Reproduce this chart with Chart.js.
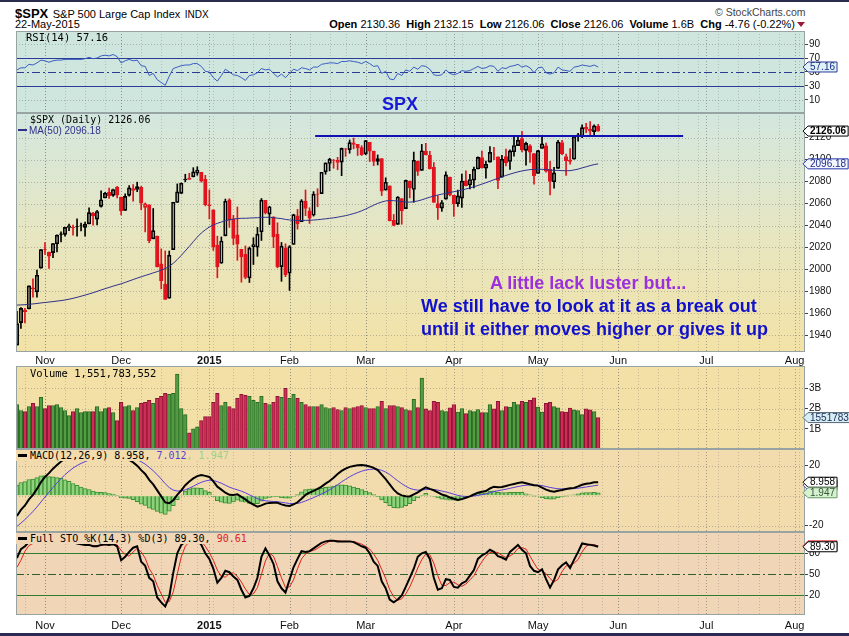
<!DOCTYPE html>
<html>
<head>
<meta charset="utf-8">
<title>$SPX daily</title>
<script src="https://cdn.jsdelivr.net/npm/chart.js@4.4.1/dist/chart.umd.min.js"></script>
<style>
  body { margin: 0; width: 849px; height: 636px; overflow: hidden; position: relative; background: #fff;
         font-family: "Liberation Sans", Arial, sans-serif; color: #000; }
  canvas { position: absolute; left: 0; }
  .t { position: absolute; white-space: nowrap; line-height: 12px; }
  .mono { font-family: "DejaVu Sans Mono", monospace; font-size: 10px; }
  .note { position: absolute; white-space: nowrap; font-weight: bold; font-size: 18px; line-height: 18px; }
  .dash { display: inline-block; width: 9px; height: 2px; vertical-align: middle; margin: 0 3px 2px 0; }
</style>
</head>
<body>
<div style="position:absolute;left:0;top:0;width:849px;height:2px;background:#2b2d4f"></div>
<div style="position:absolute;left:0;top:633px;width:849px;height:3px;background:#2a2a55"></div>
<div class="t" style="left:15px;top:6px;line-height:14px"><b style="font-size:13px">$SPX</b> <span style="font-size:11px">S&amp;P 500 Large Cap Index</span> <span style="font-size:10px">INDX</span></div>
<div class="t" style="left:15px;top:18px;font-size:11px">22-May-2015</div>
<div class="t" style="right:54px;top:18px;font-size:11px"><b>Open</b> 2130.36&nbsp; <b>High</b> 2132.15&nbsp; <b>Low</b> 2126.06&nbsp; <b>Close</b> 2126.06&nbsp; <b>Volume</b> 1.6B&nbsp; <b>Chg</b> -4.76 (-0.22%)</div>
<div style="position:absolute;left:797px;top:22px;width:0;height:0;border-left:4px solid transparent;border-right:4px solid transparent;border-top:5px solid #9b1b3b"></div>
<div class="t" style="left:715px;top:6px;font-size:10.5px;color:#444">&copy; StockCharts.com</div>

<canvas id="rsi" width="849" height="82" style="top:31px"></canvas>
<canvas id="price" width="849" height="253" style="top:113px"></canvas>
<canvas id="vol" width="849" height="83" style="top:366px"></canvas>
<canvas id="macd" width="849" height="83" style="top:449px"></canvas>
<canvas id="sto" width="849" height="99" style="top:532px"></canvas>

<div class="t mono" style="left:26px;top:31px;font-size:10.5px">RSI(14) 57.16</div>
<div class="t mono" style="left:30px;top:114px">$SPX (Daily) 2126.06</div>
<div class="t" style="left:18px;top:125px;font-size:10px;color:#30308a"><span class="dash" style="background:#30308a;margin-right:2px"></span>MA(50) 2096.18</div>
<div class="t mono" style="left:30px;top:367px;font-size:10.5px">Volume 1,551,783,552</div>
<div class="t mono" style="left:16px;top:450px;line-height:11px;padding:0 4px 0 2px;background:#f2dcae"><span class="dash" style="background:#000;height:3px"></span>MACD(12,26,9) 8.958, <span style="color:#5b3fd6">7.012</span><span style="color:#9ccf88">, 1.947</span></div>
<div class="t mono" style="left:16px;top:533px;line-height:11px;padding:0 4px 0 2px;background:#f0d6b6"><span class="dash" style="background:#000;height:3px"></span>Full STO %K(14,3) %D(3) 89.30, <span style="color:#dd2222">90.61</span></div>

<div class="note" style="left:382px;top:95px;color:#1a1ad6">SPX</div>
<div class="note" style="left:490px;top:274px;color:#9b30dc">A little lack luster but...</div>
<div class="note" style="left:421px;top:297px;color:#1111cc">We still have to look at it as a break out</div>
<div class="note" style="left:421px;top:320px;color:#1111cc">until it either moves higher or gives it up</div>

<script>
// trading days 23-Oct-2014 .. 22-May-2015, one row per month
const opens = [
  1931.0,1951.6,1962.9,1964.1,1983.3,1979.5,2001.2,
  2018.2,2015.8,2015.3,2023.3,2032.4,2032.0,2038.2,2037.8,2039.2,2039.7,2038.3,2041.5,2051.2,2045.9,2057.5,2065.1,2070.2,2067.4,2074.8,
  2065.8,2053.8,2067.5,2073.6,2072.8,2074.8,2056.6,2058.9,2027.9,2030.4,2005.0,1986.7,1973.8,2018.0,2061.0,2069.3,2081.5,2083.3,2084.3,2087.6,2088.5,2082.1,
  2058.9,2054.4,2022.2,2005.6,2030.6,2063.5,2046.1,2031.6,2018.4,2013.8,1992.3,2020.8,2020.2,2034.3,2062.9,2050.4,2047.9,2032.3,2002.5,2019.4,
  1996.7,2022.7,2048.9,2043.5,2062.3,2053.5,2049.4,2068.6,2069.0,2088.8,2096.5,2099.2,2099.3,2097.7,2109.8,2109.1,2115.3,2113.9,2110.9,
  2105.2,2115.8,2107.7,2098.5,2100.9,2072.3,2076.1,2044.7,2041.1,2064.6,2055.4,2080.6,2072.8,2098.7,2090.3,2107.9,2103.9,2093.1,2059.9,2055.8,2064.1,2084.1,
  2067.6,2060.0,2064.9,2080.8,2076.9,2081.3,2091.5,2102.0,2092.3,2097.8,2105.0,2102.6,2084.1,2102.8,2098.3,2107.2,2112.8,2119.3,2108.4,2112.5,2105.5,
  2087.4,2110.2,2112.6,2091.3,2079.9,2092.1,2115.6,2102.9,2099.6,2100.4,2122.1,2121.3,2129.5,2127.8,2125.6,2130.36
];
const highs = [
  1961.9,1965.3,1964.6,1985.1,1991.4,1999.4,2018.2,
  2024.5,2015.9,2023.8,2031.6,2034.3,2038.7,2041.3,2040.3,2046.2,2042.2,2043.1,2056.1,2052.1,2053.8,2071.5,2070.2,2074.2,2073.3,2075.8,
  2065.8,2068.8,2076.3,2077.3,2079.5,2075.8,2060.6,2058.9,2055.5,2030.4,2018.7,2016.9,2016.8,2061.2,2077.9,2078.8,2086.7,2087.6,2092.7,2093.6,2088.5,2085.7,
  2072.4,2054.4,2030.3,2029.6,2064.1,2064.4,2049.3,2056.9,2018.4,2021.4,2020.5,2028.9,2038.3,2064.6,2062.9,2057.6,2047.9,2042.5,2024.6,2023.3,
  2021.7,2050.3,2054.7,2063.6,2072.4,2056.2,2070.9,2073.5,2088.5,2097.0,2101.3,2100.2,2102.1,2110.6,2110.1,2117.9,2119.6,2113.9,2112.7,
  2117.5,2115.8,2107.7,2104.3,2100.9,2083.5,2076.1,2050.1,2066.4,2064.6,2081.4,2080.6,2106.9,2098.7,2113.9,2114.9,2107.6,2097.4,2067.2,2062.8,2088.9,2084.1,
  2067.6,2072.2,2086.9,2089.8,2086.7,2093.3,2102.6,2107.7,2098.6,2111.9,2111.3,2102.6,2103.9,2109.6,2109.0,2120.5,2120.9,2125.9,2116.0,2113.7,2105.5,
  2108.4,2120.9,2115.2,2098.4,2092.9,2117.7,2117.7,2105.1,2110.2,2121.5,2123.9,2131.8,2133.0,2134.7,2131.8,2132.15
];
const lows = [
  1931.0,1946.3,1951.4,1964.1,1974.8,1974.8,2001.2,
  2013.7,2001.0,2010.7,2015.9,2025.1,2030.2,2035.3,2031.3,2030.4,2035.2,2030.2,2041.5,2040.4,2040.5,2056.8,2065.1,2064.8,2066.6,2065.1,
  2049.6,2053.8,2066.7,2062.3,2070.8,2054.3,2034.2,2024.3,2027.9,2002.3,1982.3,1972.6,1973.8,2018.0,2061.0,2069.3,2079.8,2081.9,2084.3,2085.8,2079.5,2057.9,
  2046.0,2017.3,1992.4,2005.6,2030.6,2038.3,2022.6,2008.3,1988.4,1991.5,1988.1,2004.5,2012.0,2026.4,2050.5,2040.9,2019.9,2001.5,1989.2,1993.4,
  1980.9,2022.7,2036.7,2043.5,2049.0,2041.9,2048.6,2057.1,2069.0,2086.7,2089.8,2092.2,2090.8,2085.4,2103.0,2105.9,2109.9,2103.8,2103.8,
  2104.5,2098.3,2094.5,2095.2,2067.3,2072.3,2044.2,2039.7,2041.1,2041.2,2055.4,2065.1,2061.2,2085.6,2090.3,2104.4,2091.5,2061.1,2045.5,2052.9,2064.1,2067.0,
  2048.4,2057.3,2056.5,2076.1,2073.3,2074.3,2091.5,2092.3,2083.2,2097.8,2100.0,2073.5,2084.1,2094.4,2091.1,2103.2,2112.8,2107.0,2094.9,2097.4,2077.6,
  2087.4,2110.2,2088.5,2067.9,2074.0,2092.1,2104.6,2085.6,2096.0,2100.4,2116.8,2120.0,2124.5,2122.6,2120.9,2126.06
];
const closes = [
  1950.8,1964.6,1961.6,1985.1,1982.3,1994.7,2018.1,
  2017.8,2012.1,2023.6,2031.2,2031.9,2038.3,2039.7,2038.3,2039.3,2039.8,2041.3,2051.8,2048.7,2052.8,2063.5,2069.4,2067.0,2072.8,2067.6,
  2053.4,2066.6,2074.3,2071.9,2075.4,2060.3,2059.8,2026.1,2035.3,2002.3,1989.6,1972.7,2012.9,2061.2,2070.7,2078.5,2082.2,2081.9,2088.8,2090.6,2080.4,2058.9,
  2058.2,2020.6,2002.6,2025.9,2062.1,2044.8,2028.3,2023.0,2011.3,1992.7,2019.4,2022.6,2032.1,2063.2,2051.8,2057.1,2029.6,2002.2,2021.3,1995.0,
  2020.9,2050.0,2041.5,2062.5,2055.5,2046.7,2068.6,2068.5,2088.5,2097.0,2100.3,2099.7,2097.5,2110.3,2109.7,2115.5,2113.9,2110.7,2104.5,
  2117.4,2107.8,2098.5,2101.0,2071.3,2079.4,2044.2,2040.2,2066.0,2053.4,2081.2,2074.3,2099.5,2089.3,2108.1,2104.4,2091.5,2061.1,2056.2,2061.0,2086.2,2067.9,
  2059.7,2067.0,2080.6,2076.3,2081.9,2091.2,2102.1,2092.4,2095.8,2106.6,2105.0,2081.2,2100.4,2097.3,2108.0,2112.9,2117.7,2108.9,2114.8,2106.9,2085.5,
  2108.3,2114.5,2089.5,2080.2,2088.0,2116.1,2105.3,2099.1,2098.5,2121.1,2122.7,2129.2,2127.8,2125.9,2130.8,2126.06
];
const ma50 = [
  1967.5,1967.7,1967.9,1968.2,1968.6,1969.0,1969.5,
  1969.9,1970.3,1970.7,1971.2,1971.6,1972.2,1972.9,1973.7,1974.6,1975.6,1976.6,1977.7,1978.8,1980.0,1981.3,1982.5,1983.6,1984.8,1985.9,
  1986.9,1988.2,1989.5,1990.8,1992.1,1993.3,1994.5,1995.6,1996.9,1998.0,1999.4,2000.8,2002.9,2005.6,2009.0,2012.8,2016.9,2021.0,2025.3,2029.5,2033.2,2036.1,
  2038.7,2040.6,2042.0,2043.2,2044.4,2045.3,2045.9,2046.3,2046.6,2046.6,2046.8,2047.0,2047.1,2047.4,2047.5,2047.5,2047.2,2046.7,2046.3,2045.6,
  2045.1,2044.8,2044.6,2044.6,2044.7,2044.8,2045.0,2045.3,2045.7,2046.1,2046.6,2047.0,2047.6,2048.3,2049.0,2049.9,2050.9,2052.0,2053.4,
  2055.0,2056.8,2058.5,2060.2,2061.4,2062.4,2062.8,2062.6,2062.3,2061.8,2061.5,2061.3,2061.7,2062.4,2063.4,2064.6,2065.8,2066.9,2067.8,2068.6,2069.4,2070.2,
  2070.8,2071.5,2072.3,2073.3,2074.2,2075.3,2076.5,2077.7,2079.0,2080.3,2081.7,2082.9,2084.3,2085.6,2086.8,2087.9,2088.9,2089.7,2090.4,2090.9,2091.1,
  2091.3,2091.2,2090.9,2090.5,2090.3,2090.2,2090.0,2089.9,2090.0,2090.6,2091.4,2092.5,2093.5,2094.6,2095.5,2096.18
];
// volume in billions of shares
const volumes = [
  2.2,1.9,1.85,2.1,2.25,2.1,2.55,
  2.0,2.15,2.15,2.2,2.05,1.9,1.65,1.85,2.0,1.8,1.85,1.85,1.85,2.1,1.85,2.0,2.05,1.8,1.4,
  2.3,2.1,2.15,1.9,2.05,2.25,2.3,2.4,2.25,2.5,2.6,2.75,2.7,2.75,3.7,2.0,1.7,0.8,1.0,1.1,1.4,1.6,
  1.6,2.3,2.75,2.15,2.3,2.1,2.0,2.5,2.7,2.65,2.6,2.4,2.3,2.6,2.25,2.2,2.3,2.6,2.55,3.0,
  2.5,2.7,2.5,2.3,2.2,2.1,2.1,2.1,2.2,2.05,2.0,2.05,1.95,1.9,2.05,2.0,2.05,2.1,2.15,
  2.05,2.0,2.0,2.1,2.35,2.0,2.15,2.15,2.1,2.05,1.95,1.9,2.45,2.05,3.5,1.98,1.9,2.35,2.3,1.9,1.85,2.03,
  2.2,1.82,2.0,1.75,1.9,1.85,1.95,1.8,1.8,2.2,1.98,2.35,1.9,2.1,2.07,2.3,2.2,2.35,2.3,2.4,2.53,
  2.07,1.82,2.25,2.3,2.1,2.03,1.85,1.82,2.02,1.93,1.9,1.7,1.98,1.93,1.85,1.551783552
];
const rsi14 = [
  53,56,56,61,60,63,67,
  66,64,66,67,67,68,68,68,68,68,69,71,69,70,73,74,73,75,72,
  63,66,68,66,67,59,58,45,48,39,35,31,44,55,57,59,60,60,62,62,58,51,
  50,42,37,45,54,50,46,45,42,38,45,46,49,55,53,54,48,43,47,42,
  48,54,52,56,55,53,57,57,61,62,63,63,62,65,65,66,65,64,62,
  65,62,58,59,48,51,40,39,48,45,53,51,57,54,59,58,54,46,45,46,53,48,
  46,48,52,51,52,55,58,55,56,59,58,51,56,55,58,59,61,57,59,56,49,
  56,57,49,47,49,57,53,52,51,57,58,60,59,58,60,57.16
];
const macdLine = [
  -13.5,-9.5,-6.5,-2.5,0.5,4.5,9.0,
  12.5,15.0,18.0,20.5,22.8,24.6,25.8,26.5,27.0,27.3,27.4,27.8,27.6,27.5,27.9,28.2,27.9,27.8,27.0,
  25.0,24.5,23.8,22.2,20.0,17.0,14.5,10.5,7.5,3.5,-0.5,-4.5,-5.0,-3.0,0.5,3.5,7.0,9.5,11.5,13.0,13.8,13.2,
  12.5,9.5,6.0,4.0,2.0,0.6,0.5,0.9,-0.8,-2.5,-4.5,-6.0,-7.3,-6.5,-5.3,-4.8,-4.7,-4.7,-5.8,-6.5,
  -6.9,-5.8,-4.4,-2.0,0.5,2.0,3.2,4.5,6.0,8.0,9.8,12.0,14.5,16.5,18.0,19.2,19.8,20.2,20.4,
  20.1,19.5,18.5,17.0,14.0,11.0,7.5,4.0,1.5,0.2,-0.4,-0.5,0.8,2.2,4.0,5.6,4.5,3.6,2.2,0.8,0.0,-1.2,
  -2.0,-2.9,-2.3,-1.4,-0.5,0.8,2.0,2.6,3.1,4.8,6.0,5.6,5.8,6.4,7.2,7.8,8.4,8.9,8.3,7.6,7.0,
  6.7,5.4,4.0,3.1,2.7,3.3,3.8,4.4,4.9,5.2,6.2,7.3,7.9,8.3,8.9,8.9584
];
const macdSignal = [
  -20.5,-18.3,-15.9,-13.3,-10.5,-7.5,-4.2,
  -0.9,2.3,5.5,8.5,11.3,14.0,16.3,18.4,20.1,21.5,22.7,23.7,24.5,25.1,25.7,26.2,26.5,26.8,26.8,
  26.5,26.1,25.6,24.9,24.0,22.6,21.0,18.9,16.6,14.0,11.1,8.0,5.4,3.7,3.1,3.2,3.9,5.0,6.3,7.7,8.9,9.8,
  10.3,10.1,9.3,8.3,7.0,5.7,4.7,3.9,3.0,1.9,0.6,-0.7,-2.0,-2.9,-3.4,-3.7,-3.9,-4.0,-4.4,-4.8,
  -5.2,-5.3,-5.2,-4.5,-3.5,-2.4,-1.3,-0.1,1.1,2.5,3.9,5.6,7.3,9.2,10.9,12.6,14.0,15.3,16.3,
  17.1,17.5,17.7,17.6,16.9,15.7,14.1,12.0,9.9,8.0,6.3,4.9,4.1,3.7,3.8,4.1,4.2,4.1,3.7,3.1,2.5,1.8,
  1.0,0.2,-0.3,-0.5,-0.5,-0.2,0.2,0.7,1.2,1.9,2.7,3.3,3.8,4.3,4.9,5.5,6.1,6.6,7.0,7.1,7.1,
  7.0,6.7,6.1,5.5,5.0,4.6,4.5,4.5,4.5,4.7,5.0,5.4,5.8,6.2,6.6,7.0116
];
const stoK = [
  73,86,90,96,96,98,99,
  97,95,97,97,98,98,97,96,94,93,92,92,90,90,92,93,92,93,90,
  70,75,82,88,90,68,62,45,40,17,10,4,18,52,80,92,97,98,99,99,92,80,
  72,58,38,45,55,53,47,42,28,17,19,30,45,75,87,77,65,40,30,24,
  42,60,72,83,82,83,87,91,95,97,98,98,97,97,97,97,96,93,90,
  88,80,68,62,40,30,14,10,14,20,32,45,58,75,80,82,72,45,28,30,43,42,
  32,31,37,40,48,56,72,77,80,85,82,76,74,71,82,87,92,85,80,62,55,
  53,57,43,31,42,57,63,67,59,71,82,94,93,92,91,89.30
];
const stoD = [
  60,70,83,91,94,97,98,
  98,97,96,96,97,98,98,97,96,94,93,92,91,91,91,92,92,93,92,
  84,78,76,82,87,82,73,58,49,34,22,10,11,25,50,75,90,96,98,99,97,90,
  81,70,56,47,46,51,52,47,39,29,21,22,31,50,69,80,76,61,45,31,
  32,42,58,72,79,83,84,87,91,94,97,98,98,97,97,97,97,95,93,
  90,86,79,70,57,44,28,18,13,15,22,32,45,59,71,79,78,66,48,34,34,38,
  39,35,33,36,42,48,59,68,76,81,82,81,77,74,76,80,87,88,86,76,66,
  57,55,51,44,39,43,54,62,63,66,71,82,90,93,92,90.61
];
// month ticks (first trading day) and weekly grid positions, as trading-day indices
const monthTickIdx = [7, 26, 48, 68, 87, 109, 130, 150, 172, 194];
const monthTickLabels = ['Nov', 'Dec', '2015', 'Feb', 'Mar', 'Apr', 'May', 'Jun', 'Jul', 'Aug'];
const weekGridIdx = [2,7,12,17,22,26,31,36,41,45,49,54,59,63,68,73,78,82,87,92,97,102,107,111,116,121,126,131,136,141,146,150,155,160,165,170,175,180,185,190,195];
// drawn resistance line (trading-day index range, price level)
const resistX = [74.4, 166.2];
const resistLevel = 2121.5;

const rsiTicks = [10, 30, 50, 70, 90];
const priceTicks = [1940, 1960, 1980, 2000, 2020, 2040, 2060, 2080, 2100, 2120];
const volTicks = [1, 2, 3];
const macdTicks = [-20, 0, 20];
const stoTicks = [20, 50, 80];

const X_MIN = -0.23, X_MAX = 196.6;
const FONT = 'Liberation Sans';
const last = a => a[a.length - 1];

const idx = closes.map((c, i) => i);
const downDay = idx.map(i => i > 0 && closes[i] < closes[i - 1]);
const candleColor = idx.map(i => downDay[i] ? '#e0141e' : '#000000');
const hist = idx.map(i => macdLine[i] - macdSignal[i]);
const pts = arr => idx.map(i => ({ x: i, y: arr[i] }));

const NAVY = '#2b3a96', GREEN = '#2e7d2e';
const panelCfg = {
  rsi:   { bg: '#cfe6de', hgrid: [10, 90],
           ref: [{ v: 70, c: NAVY }, { v: 30, c: NAVY }, { v: 50, c: NAVY, dash: [8, 3, 2, 3] }],
           tags: [{ v: last(rsi14), text: last(rsi14).toFixed(2), fill: '#dff2f6', stroke: NAVY, color: '#1b2a86' }] },
  price: { grad: [[0, '#d3e7df'], [0.5, '#e6e6c2'], [1, '#f3e2a6']], hgrid: priceTicks, ref: [],
           tags: [{ v: last(ma50), text: last(ma50).toFixed(2), fill: '#f4f6ff', stroke: '#2233aa', color: '#1b2a86' },
                  { v: last(closes), text: last(closes).toFixed(2), fill: '#ffffff', stroke: '#000', color: '#000', bold: true }] },
  vol:   { bg: '#f2e0a6', hgrid: volTicks, ref: [],
           tags: [{ v: last(volumes), text: String(Math.round(last(volumes) * 1e9)), fill: '#d8eef4', stroke: '#556677', color: '#1b2a56' }] },
  macd:  { bg: '#f2dcae', hgrid: macdTicks, ref: [],
           tags: [{ v: last(macdSignal), text: last(macdSignal).toFixed(3), fill: '#ffffff', stroke: '#5b3fd6', color: '#5b3fd6' },
                  { v: last(macdLine), text: last(macdLine).toFixed(3), fill: '#ffffff', stroke: '#000', color: '#000' },
                  { v: last(hist), text: last(hist).toFixed(3), fill: '#d6f2d0', stroke: '#6a9a66', color: '#335533' }] },
  sto:   { bg: '#f0d6b6', hgrid: [], 
           ref: [{ v: 80, c: GREEN }, { v: 20, c: GREEN }, { v: 50, c: '#2e5e2e', dash: [8, 3, 2, 3] }],
           tags: [{ v: last(stoD), text: last(stoD).toFixed(2), fill: '#ffffff', stroke: '#dd2222', color: '#dd2222' },
                  { v: last(stoK), text: last(stoK).toFixed(2), fill: '#ffffff', stroke: '#000', color: '#000' }] }
};

function hline(ctx, a, y) {
  ctx.beginPath(); ctx.moveTo(a.left, y); ctx.lineTo(a.right, y); ctx.stroke();
}

function drawTag(ctx, y, t) {
  ctx.font = (t.bold ? 'bold ' : '') + '10px "' + FONT + '"';
  const w = ctx.measureText(t.text).width;
  const x0 = 803, x1 = 808, x2 = x1 + w + 4, h = 5;
  ctx.beginPath();
  ctx.moveTo(x0, y); ctx.lineTo(x1, y - h); ctx.lineTo(x2, y - h); ctx.lineTo(x2, y + h); ctx.lineTo(x1, y + h);
  ctx.closePath();
  ctx.fillStyle = t.fill; ctx.fill();
  ctx.lineWidth = 1; ctx.strokeStyle = t.stroke; ctx.stroke();
  ctx.fillStyle = t.color; ctx.textAlign = 'left'; ctx.textBaseline = 'middle';
  ctx.fillText(t.text, x1 + 2, y + 0.5);
}

const panelPlugin = {
  id: 'panel',
  beforeDraw(chart) {
    const o = panelCfg[chart.canvas.id];
    const { ctx, chartArea: a } = chart;
    const xs = chart.scales.x, ys = chart.scales.y;
    ctx.save();
    if (o.grad) {
      const g = ctx.createLinearGradient(0, a.top, 0, a.bottom);
      o.grad.forEach(s => g.addColorStop(s[0], s[1]));
      ctx.fillStyle = g;
    } else ctx.fillStyle = o.bg;
    ctx.fillRect(a.left, a.top, a.width, a.height);
    ctx.beginPath(); ctx.rect(a.left, a.top, a.width, a.height); ctx.clip();
    ctx.lineWidth = 1;
    ctx.setLineDash([1, 2]);
    ctx.strokeStyle = 'rgba(100,100,100,0.30)';
    weekGridIdx.forEach(v => {
      const px = Math.round(xs.getPixelForValue(v)) + 0.5;
      ctx.beginPath(); ctx.moveTo(px, a.top); ctx.lineTo(px, a.bottom); ctx.stroke();
    });
    ctx.strokeStyle = 'rgba(100,100,100,0.55)';
    monthTickIdx.forEach(v => {
      const px = Math.round(xs.getPixelForValue(v)) + 0.5;
      ctx.beginPath(); ctx.moveTo(px, a.top); ctx.lineTo(px, a.bottom); ctx.stroke();
    });
    ctx.strokeStyle = 'rgba(100,100,100,0.40)';
    o.hgrid.forEach(v => hline(ctx, a, Math.round(ys.getPixelForValue(v)) + 0.5));
    o.ref.forEach(r => {
      ctx.setLineDash(r.dash || []);
      ctx.strokeStyle = r.c;
      hline(ctx, a, Math.round(ys.getPixelForValue(r.v)) + 0.5);
    });
    ctx.restore();
  },
  afterDraw(chart) {
    const o = panelCfg[chart.canvas.id];
    const { ctx, chartArea: a } = chart;
    ctx.save();
    ctx.strokeStyle = '#98a4a4'; ctx.lineWidth = 1;
    ctx.strokeRect(a.left + 0.5, a.top + 0.5, a.width - 1, a.height - 1);
    o.tags.forEach(t => drawTag(ctx, chart.scales.y.getPixelForValue(t.v), t));
    ctx.restore();
  }
};
Chart.register(panelPlugin);

function xScale(show, height, pad) {
  return {
    type: 'linear', min: X_MIN, max: X_MAX, offset: false,
    afterBuildTicks: s => { s.ticks = monthTickIdx.map(v => ({ value: v })); },
    afterFit: s => { s.height = height; s.paddingLeft = 0; s.paddingRight = 0; },
    grid: { display: show, drawOnChartArea: false, drawTicks: false, offset: false },
    border: { display: false },
    ticks: {
      display: show, autoSkip: false, maxRotation: 0, padding: pad, color: '#111',
      font: c => ({ family: FONT, size: 11, weight: (c.tick && c.tick.label === '2015') ? 'bold' : 'normal' }),
      callback: v => monthTickLabels[monthTickIdx.indexOf(v)]
    }
  };
}

function yScale(min, max, ticks, fmt) {
  return {
    position: 'right', min, max,
    afterBuildTicks: s => { s.ticks = ticks.map(v => ({ value: v })); },
    afterFit: s => { s.width = 44; s.paddingTop = 0; s.paddingBottom = 0; },
    grid: { drawOnChartArea: false, drawTicks: true, tickLength: 3, tickColor: '#444' },
    border: { display: false },
    ticks: { padding: 1, color: '#111', font: { family: FONT, size: 10 }, callback: fmt || (v => String(v)) }
  };
}

function makeChart(id, datasets, y, x) {
  return new Chart(document.getElementById(id), {
    type: 'bar',
    data: { datasets },
    options: {
      responsive: false, animation: false, devicePixelRatio: 1,
      layout: { padding: { left: 16, right: 0, top: 0, bottom: 0 }, autoPadding: false },
      plugins: { legend: { display: false }, tooltip: { enabled: false } },
      scales: { x, y }
    }
  });
}

const line = (data, color, width, order) => ({
  type: 'line', data, borderColor: color, borderWidth: width, pointRadius: 0, tension: 0, order
});

makeChart('rsi', [line(pts(rsi14), '#3a5cc0', 1, 1)],
  yScale(-8.6, 108.6, rsiTicks), xScale(false, 0, 0));

makeChart('price', [
  line(resistX.map(x => ({ x, y: resistLevel })), '#1212b4', 2, 0),
  line(pts(ma50), '#30308a', 1, 1),
  { type: 'bar', data: idx.map(i => ({ x: i, y: [lows[i], Math.min(opens[i], closes[i])] })),
    backgroundColor: candleColor, barThickness: 1, grouped: false, order: 4 },
  { type: 'bar', data: idx.map(i => ({ x: i, y: [Math.max(opens[i], closes[i]), highs[i]] })),
    backgroundColor: candleColor, barThickness: 1, grouped: false, order: 4 },
  { type: 'bar', data: idx.map(i => ({ x: i, y: [opens[i], closes[i]] })),
    backgroundColor: idx.map(i => closes[i] < opens[i] ? candleColor[i] : 'rgba(0,0,0,0)'),
    borderColor: candleColor, borderWidth: 1, borderSkipped: false, barThickness: 3.5, grouped: false, order: 3 }
], yScale(1924.8, 2142.5, priceTicks), xScale(true, 14, 2));

makeChart('vol', [
  { type: 'bar', data: pts(volumes),
    backgroundColor: idx.map(i => downDay[i] ? '#cf2d57' : '#529c43'),
    borderColor: idx.map(i => downDay[i] ? '#8c1434' : '#2b6a24'),
    borderWidth: 1, barThickness: 3.6, grouped: false }
], yScale(0, 4.1, volTicks, v => v + 'B'), xScale(false, 0, 0));

makeChart('macd', [
  { type: 'bar', data: pts(hist), backgroundColor: '#8fd27c', borderColor: '#3f8f35',
    borderWidth: 1, barThickness: 4.1, grouped: false, order: 3 },
  line(pts(macdSignal), '#5b3fd6', 1, 2),
  line(pts(macdLine), '#000000', 2, 1)
], yScale(-24.2, 31.1, macdTicks), xScale(false, 0, 0));

makeChart('sto', [
  line(pts(stoD), '#e02020', 1, 2),
  line(pts(stoK), '#000000', 2, 1)
], yScale(-8.1, 110.4, stoTicks), xScale(true, 16, 4));
</script>
</body>
</html>
